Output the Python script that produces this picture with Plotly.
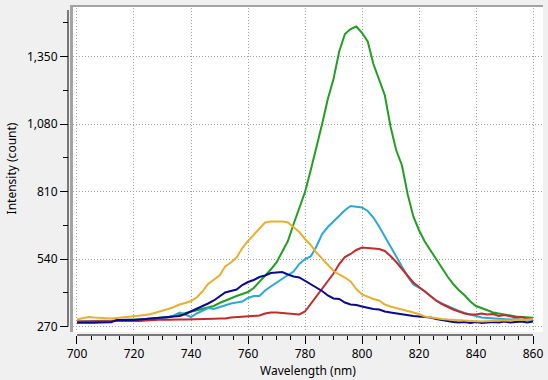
import plotly.graph_objects as go

# ---- data ----
wavelength = list(range(700, 861, 2))

green = [288, 290, 290, 289, 290, 292, 291, 293, 295, 296,
         297, 299, 300, 302, 303, 305, 308, 312, 318, 322,
         328, 334, 340, 346, 352, 364, 374, 384, 392, 400,
         408, 424, 448, 470, 498, 526, 566, 612, 680, 745,
         808, 895, 985, 1080, 1180, 1260, 1370, 1440, 1460, 1470,
         1445, 1410, 1320, 1255, 1195, 1070, 975, 915, 800, 710,
         655, 610, 575, 540, 500, 470, 440, 415, 395, 370,
         352, 342, 335, 326, 322, 315, 312, 310, 308, 306, 305]

cyan = [290, 291, 290, 292, 291, 293, 292, 294, 296, 295,
        297, 298, 300, 299, 302, 304, 306, 314, 326, 318,
        308, 322, 334, 344, 340, 348, 356, 362, 366, 370,
        384, 392, 392, 414, 430, 446, 462, 476, 490, 520,
        540, 550, 590, 640, 668, 690, 712, 735, 752, 748,
        746, 732, 706, 670, 630, 590, 550, 515, 470, 438,
        425, 412, 392, 374, 362, 352, 340, 332, 324, 318,
        310, 306, 304, 302, 303, 300, 298, 300, 297, 298, 296]

red = [290, 289, 290, 291, 290, 292, 291, 293, 292, 294,
       293, 292, 294, 296, 297, 298, 297, 296, 298, 298,
       298, 298, 299, 300, 301, 302, 302, 306, 308, 308,
       310, 312, 314, 322, 326, 326, 324, 322, 320, 318,
       330, 360, 390, 420, 450, 482, 520, 548, 560, 576,
       586, 584, 582, 580, 572, 552, 528, 500, 472, 446,
       428, 410, 392, 374, 360, 348, 338, 330, 322, 318,
       318, 322, 318, 320, 312, 316, 312, 306, 308, 302, 300]

orange = [298, 302, 308, 306, 304, 302, 302, 304, 306, 308,
          310, 312, 316, 320, 326, 332, 340, 348, 358, 364,
          372, 386, 410, 440, 456, 474, 510, 526, 546, 584,
          612, 638, 662, 686, 690, 690, 690, 686, 666, 648,
          620, 596, 566, 540, 514, 492, 478, 466, 450, 420,
          398, 388, 380, 374, 358, 350, 344, 338, 330, 326,
          320, 310, 306, 304, 300, 298, 296, 294, 292, 292,
          291, 290, 292, 294, 296, 295, 294, 298, 296, 298, 300]

navy = [285, 284, 286, 285, 286, 285, 287, 296, 298, 297,
        296, 298, 300, 302, 304, 306, 305, 308, 312, 320,
        330, 340, 352, 362, 374, 390, 406, 412, 418, 436,
        448, 456, 468, 474, 484, 486, 488, 478, 470, 466,
        452, 440, 426, 412, 394, 382, 380, 366, 358, 356,
        350, 344, 340, 338, 330, 326, 322, 318, 316, 312,
        310, 308, 306, 300, 296, 290, 288, 286, 288, 284,
        288, 284, 286, 288, 286, 290, 286, 288, 290, 286, 290]

series = [
    ("Green", green, "#229e22"),
    ("Cyan", cyan, "#2aa8d8"),
    ("Red", red, "#c42a2a"),
    ("Navy", navy, "#0a0a8c"),
    ("Orange", orange, "#e6b030"),
]

fig = go.Figure()
for name, vals, color in series:
    fig.add_trace(go.Scatter(x=wavelength, y=vals, mode="lines", name=name,
                             line=dict(color=color, width=2)))

font = dict(family="Noto Sans, DejaVu Sans, sans-serif", size=12, color="#000000")

fig.update_layout(
    width=548, height=380,
    margin=dict(l=68, r=5, t=5, b=45),
    paper_bgcolor="#f0f0f0",
    plot_bgcolor="#ffffff",
    showlegend=False,
    font=font,
    xaxis=dict(
        domain=[5 / 475, 1], range=[698.6, 863.5],
        anchor="free", position=0,
        showline=False, zeroline=False,
        tick0=700, dtick=20,
        ticks="outside", ticklen=8, tickwidth=1, tickcolor="#000000",
        minor=dict(dtick=5, ticks="outside", ticklen=4, tickwidth=1,
                   tickcolor="#000000", showgrid=False),
        showgrid=True, gridcolor="#a0a0a0", griddash="1px,2px", gridwidth=1,
        tickfont=font,
        title=dict(text="Wavelength (nm)", font=font, standoff=4),
    ),
    yaxis=dict(
        domain=[3 / 330, 1], range=[248, 1556],
        anchor="free", position=0,
        showline=False, zeroline=False,
        tick0=270, dtick=270, tickformat=",d",
        ticks="outside", ticklen=8, tickwidth=1, tickcolor="#000000",
        minor=dict(dtick=135, ticks="outside", ticklen=5, tickwidth=1,
                   tickcolor="#000000", showgrid=False),
        showgrid=True, gridcolor="#a0a0a0", griddash="1px,2px", gridwidth=1,
        tickfont=font,
        title=dict(text="Intensity (count)", font=font, standoff=6),
    ),
)

# axis lines spanning the tick range only
fig.add_shape(type="line", xref="x", yref="paper", x0=700, x1=860, y0=0, y1=0,
              line=dict(color="#000000", width=1))
fig.add_shape(type="line", xref="paper", yref="y", x0=0, x1=0, y0=270, y1=1536,
              line=dict(color="#000000", width=1))
# frame edges (top and left)
fig.add_shape(type="rect", xref="paper", yref="paper", x0=2 / 475, x1=1,
              y0=1 - 2 / 330, y1=1, line=dict(width=0), fillcolor="#a3a3a3",
              layer="above")
fig.add_shape(type="rect", xref="paper", yref="paper", x0=2 / 475, x1=5 / 475,
              y0=3 / 330, y1=1, line=dict(width=0), fillcolor="#a3a3a3",
              layer="above")

fig.write_html("out.html",
               config={"displayModeBar": False},
               post_script="document.body.style.margin='0';document.body.style.background='#f0f0f0';")
